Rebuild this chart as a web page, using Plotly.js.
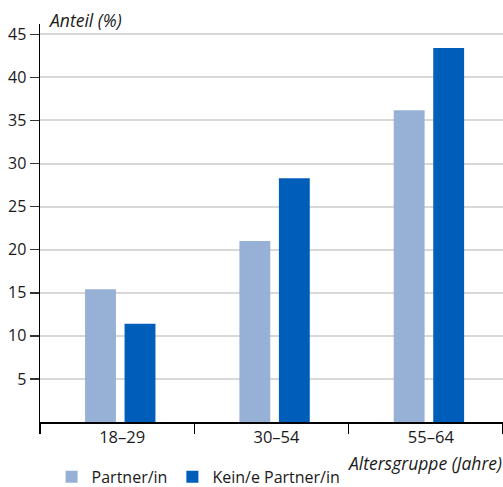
<!DOCTYPE html>
<html>
<head>
<meta charset="utf-8">
<script src="https://cdn.plot.ly/plotly-3.0.1.min.js"></script>
<style>html,body{margin:0;padding:0;background:#fff;}#chart{width:503px;height:487px;}</style>
</head>
<body>
<div id="chart"></div>
<script>
const categories = ["18–29", "30–54", "55–64"];
const partnerValues = [15.4, 21.0, 36.2];
const keinPartnerValues = [11.4, 28.3, 43.4];
const seriesNames = ["Partner/in", "Kein/e Partner/in"];
const yTicks = [5, 10, 15, 20, 25, 30, 35, 40, 45];

const FONT = "Open Sans, sans-serif";
const data = [
  {type: "bar", x: categories, y: partnerValues, name: seriesNames[0], marker: {color: "#97b0d6"}, width: 0.2, offset: -0.208},
  {type: "bar", x: categories, y: keinPartnerValues, name: seriesNames[1], marker: {color: "#005ebb"}, width: 0.2, offset: 0.048}
];
const layout = {
  width: 503, height: 487,
  margin: {l: 40, r: 0, t: 24, b: 65},
  paper_bgcolor: "#fff", plot_bgcolor: "#fff",
  font: {family: FONT, size: 16, color: "#1a1a1a"},
  barmode: "group",
  showlegend: true,
  legend: {orientation: "h", x: 0.025, xref: "paper", y: 0.021, yref: "container", xanchor: "left", yanchor: "middle", font: {size: 16}, itemclick: false},
  xaxis: {
    type: "category", range: [-0.5, 2.5], showline: true, linecolor: "#000", linewidth: 1.5,
    ticks: "outside", tickson: "boundaries", ticklen: 10, tickcolor: "#000", tickwidth: 1.5,
    showgrid: false, zeroline: false, fixedrange: true, tickfont: {size: 16.5}, ticklabelshift: 5
  },
  yaxis: {
    range: [0, 46.2], tickvals: yTicks, ticktext: yTicks.map(String),
    showline: true, linecolor: "#000", linewidth: 1.5,
    ticks: "outside", ticklen: 9, tickcolor: "#333", tickwidth: 1.5,
    showgrid: true, gridcolor: "#d8d8d8", gridwidth: 2, zeroline: false, tickfont: {size: 16}
  },
  annotations: [
    {text: "<i>Anteil (%)</i>", xref: "paper", yref: "paper", x: 0.015, y: 1.01, xanchor: "left", yanchor: "middle", showarrow: false, font: {size: 17.5}},
    {text: "<i>Altersgruppe (Jahre)</i>", xref: "paper", yref: "paper", x: 1.002, y: -0.103, xanchor: "right", yanchor: "middle", showarrow: false, font: {size: 17.5}}
  ]
};
Plotly.newPlot("chart", data, layout, {displayModeBar: false, staticPlot: true});
</script>
</body>
</html>
